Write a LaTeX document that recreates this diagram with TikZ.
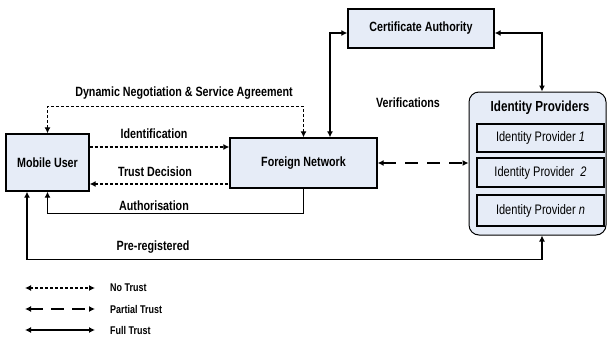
\documentclass[tikz,border=0pt]{standalone}
\usepackage{fontspec}
\setmainfont{Liberation Sans}[FakeStretch=0.8]
\usetikzlibrary{arrows.meta,calc}
\definecolor{boxfill}{RGB}{230,236,247}
\begin{document}
\begin{tikzpicture}[x=1pt,y=-1pt,
  >={Latex[length=6pt,width=6pt]},
  nodebox/.style={draw,line width=1.3pt,fill=boxfill,inner sep=0pt,font=\fontsize{13.4}{15}\selectfont\bfseries},
  idpbox/.style={draw,line width=1.3pt,fill=boxfill,inner sep=0pt,minimum width=127pt,font=\fontsize{13.8}{15}\selectfont},
  lbl/.style={inner sep=0pt,font=\fontsize{13.4}{15}\selectfont\bfseries},
  legtext/.style={inner sep=0pt,anchor=west,font=\fontsize{11.2}{13}\selectfont\bfseries},
  notrust/.style={line width=1.2pt,dash pattern=on 3pt off 2pt},
  partial/.style={line width=1.4pt,dash pattern=on 13pt off 9pt},
  full/.style={line width=1.4pt}]
\useasboundingbox (0,0) rectangle (609,343);

% nodes
\node[nodebox,minimum width=83pt,minimum height=57pt] (MU) at (47.5,162.5) {Mobile User};
\node[nodebox,minimum width=147pt,minimum height=50pt] (FN) at (303.5,163) {Foreign Network};
\node[nodebox,minimum width=146pt,minimum height=39pt] (CA) at (421,28.5) {Certificate Authority};
\node[draw,line width=1pt,fill=boxfill,rounded corners=10pt,minimum width=137pt,minimum height=143pt] (IdP) at (537.5,163.5) {};
\node[lbl,font=\fontsize{14.6}{16}\selectfont\bfseries] (IdPt) at (540,108) {Identity Providers};
\node[idpbox,minimum height=28pt] (IdP1) at (540.5,138) {Identity Provider \textit{1}};
\node[idpbox,minimum height=29pt] (IdP2) at (540.5,172.5) {Identity Provider \ \textit{2}};
\node[idpbox,minimum height=31pt] (IdP3) at (540.5,210.5) {Identity Provider \textit{n}};

% connectors
\draw[notrust,<->] (MU.north) -- ++(0,-27) coordinate (dn) -| (FN.north);
\coordinate (idL) at ([yshift=15.5pt]MU.east);
\draw[notrust,->] (idL) -- (idL -| FN.west);
\coordinate (tdL) at ([yshift=-21.5pt]MU.east);
\draw[notrust,<-] (tdL) -- (tdL -| FN.west);
\draw[full,->] (FN.south) -- ++(0,25) -| (MU.south);
\draw[full,<->] ([xshift=-20.5pt]MU.south) -- ++(0,68) -| ([xshift=4.5pt]IdP.south);
\draw[full,<->] ([xshift=26.5pt]FN.north) |- ([yshift=-4.5pt]CA.west);
\draw[full,<->] ([yshift=-4.5pt]CA.east) -| ([xshift=4.5pt]IdP.north);
\draw[partial,<->] (FN.east) -- (FN.east -| IdP.west);

% labels
\node[lbl] (ldn) at (184,93) {Dynamic Negotiation \& Service Agreement};
\node[lbl] (lid) at (154,134) {Identification};
\node[lbl] (ltd) at (155,172) {Trust Decision};
\node[lbl] (lau) at (154,206) {Authorisation};
\node[lbl] (lpr) at (153,247) {Pre-registered};
\node[lbl] (lve) at (408,103) {Verifications};

% legend
\coordinate (l1a) at (25,288); \coordinate (l1b) at (95,288);
\coordinate (l2a) at (25,309); \coordinate (l2b) at (95,309);
\coordinate (l3a) at (25,330); \coordinate (l3b) at (95,330);
\draw[notrust,<->] (l1a) -- (l1b);
\draw[line width=1.4pt,dash pattern=on 13pt off 8pt,<->] (l2a) -- (l2b);
\draw[full,<->] (l3a) -- (l3b);
\node[legtext] (t1) at (110,288) {No Trust};
\node[legtext] (t2) at (110,309) {Partial Trust};
\node[legtext] (t3) at (110,330) {Full Trust};
\end{tikzpicture}
\end{document}
